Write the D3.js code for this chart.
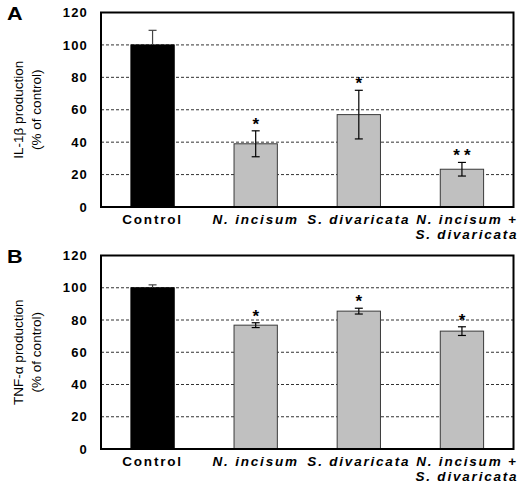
<!DOCTYPE html>
<html>
<head>
<meta charset="utf-8">
<script src="https://cdn.jsdelivr.net/npm/d3@7"></script>
<style>
  html, body { margin: 0; padding: 0; background: #fff; }
  svg { display: block; }
  text { font-family: "Liberation Sans", Arial, sans-serif; fill: #000; }
</style>
</head>
<body>
<svg id="chart" width="525" height="483"></svg>
<script>
// ---- data ----
const categories = ["Control", "N. incisum", "S. divaricata", "N. incisum + S. divaricata"];
const categoryLines = [["Control"], ["N. incisum"], ["S. divaricata"], ["N. incisum +", "S. divaricata"]];
const categoryItalic = [false, true, true, true];
const barColors = ["#000000", "#c0c0c0", "#c0c0c0", "#c0c0c0"];

const il1bValues = [100, 39, 57, 23.3];
const il1bErrors = [9, 8, 15, 4.2];
const il1bSig = ["", "*", "*", "**"];

const tnfValues = [100, 76.8, 85.5, 73.1];
const tnfErrors = [1.8, 1.5, 1.8, 2.7];
const tnfSig = ["", "*", "*", "*"];

const yTicks = [0, 20, 40, 60, 80, 100, 120];
const gridTicks = [20, 40, 60, 80, 100];

const panels = [
  { letter: "A", title1: "IL-1\u03b2 production", title2: "(% of control)",
    values: il1bValues, errors: il1bErrors, sig: il1bSig, top: 12.5, bottom: 207 },
  { letter: "B", title1: "TNF-\u03b1 production", title2: "(% of control)",
    values: tnfValues, errors: tnfErrors, sig: tnfSig, top: 255.5, bottom: 449 }
];

const svg = d3.select("#chart");
const left = 101, right = 513.5;

const x = d3.scaleBand().domain(categories).range([left, right])
  .paddingInner(0.58).paddingOuter(0.29);

panels.forEach(p => {
  const g = svg.append("g");
  const y = d3.scaleLinear().domain([0, 120]).range([p.bottom, p.top]);

  // gridlines
  g.append("g").selectAll("line").data(gridTicks).join("line")
    .attr("x1", left).attr("x2", right)
    .attr("y1", d => y(d)).attr("y2", d => y(d))
    .attr("stroke", "#333").attr("stroke-width", 1)
    .attr("stroke-dasharray", "3,2");

  // bars
  g.append("g").selectAll("rect").data(categories).join("rect")
    .attr("x", d => x(d))
    .attr("width", x.bandwidth())
    .attr("y", (d, i) => y(p.values[i]))
    .attr("height", (d, i) => y(0) - y(p.values[i]))
    .attr("fill", (d, i) => barColors[i])
    .attr("stroke", (d, i) => i === 0 ? "#000" : "#3a3a3a")
    .attr("stroke-width", 1);

  // error bars
  const eb = g.append("g").attr("stroke", "#000").attr("stroke-width", 1.2);
  categories.forEach((c, i) => {
    const cx = x(c) + x.bandwidth() / 2;
    const hi = y(p.values[i] + p.errors[i]);
    const lo = y(p.values[i] - p.errors[i]);
    const col = i === 0 ? "#444" : "#000";
    eb.append("line").attr("x1", cx).attr("x2", cx).attr("y1", hi).attr("y2", y(p.values[i])).attr("stroke", col);
    eb.append("line").attr("x1", cx - 4).attr("x2", cx + 4).attr("y1", hi).attr("y2", hi).attr("stroke", col);
    if (i !== 0) {
      eb.append("line").attr("x1", cx).attr("x2", cx).attr("y1", y(p.values[i])).attr("y2", lo);
      eb.append("line").attr("x1", cx - 4).attr("x2", cx + 4).attr("y1", lo).attr("y2", lo);
    }
  });

  // significance stars
  g.append("g").selectAll("text").data(categories).join("text")
    .attr("x", d => x(d) + x.bandwidth() / 2 + 2)
    .attr("y", (d, i) => y(p.values[i] + p.errors[i]) - 1)
    .attr("text-anchor", "middle")
    .attr("font-size", 17).attr("font-weight", "bold")
    .attr("letter-spacing", 4)
    .text((d, i) => p.sig[i]);

  // frame
  g.append("rect").attr("x", left).attr("y", p.top)
    .attr("width", right - left).attr("height", p.bottom - p.top)
    .attr("fill", "none").attr("stroke", "#000").attr("stroke-width", 2);

  // y axis tick labels
  const ax = d3.axisLeft(y).tickValues(yTicks).tickSize(0).tickPadding(13);
  const axg = g.append("g").attr("transform", `translate(${left},0)`).call(ax);
  axg.select(".domain").remove();
  axg.selectAll("text")
    .attr("font-family", "'Liberation Sans', Arial, sans-serif")
    .attr("font-size", 13).attr("font-weight", "bold")
    .attr("letter-spacing", 1.2)
    .attr("fill", "#000");

  // x category labels
  const lg = g.append("g");
  categories.forEach((c, i) => {
    const cx = x(c) + x.bandwidth() / 2 + (categoryLines[i].length > 1 ? 5 : 0);
    categoryLines[i].forEach((line, k) => {
      lg.append("text")
        .attr("x", cx).attr("y", p.bottom + 17 + k * 15)
        .attr("text-anchor", "middle")
        .attr("font-size", 13.5).attr("font-weight", "bold")
        .attr("font-style", categoryItalic[i] ? "italic" : "normal")
        .attr("letter-spacing", 1.8)
        .text(line);
    });
  });

  // y title
  const mid = (p.top + p.bottom) / 2;
  g.append("text")
    .attr("transform", `translate(23,${mid}) rotate(-90)`)
    .attr("text-anchor", "middle").attr("font-size", 13.5)
    .text(p.title1);
  g.append("text")
    .attr("transform", `translate(40.5,${mid}) rotate(-90)`)
    .attr("text-anchor", "middle").attr("font-size", 13.5)
    .text(p.title2);

  // panel letter
  g.append("text")
    .attr("x", 7).attr("y", p.top + 8)
    .attr("font-size", 18).attr("font-weight", "bold")
    .attr("transform", `translate(7,${p.top + 8}) scale(1.2,1) translate(-7,${-(p.top + 8)})`)
    .text(p.letter);
});
</script>
</body>
</html>
